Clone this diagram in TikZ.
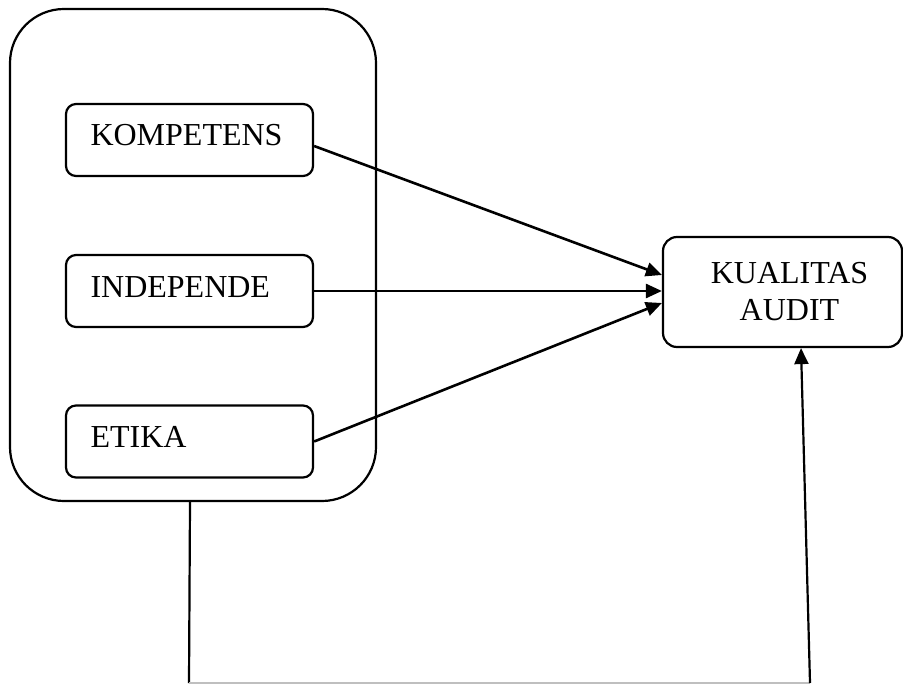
\documentclass[tikz,border=0pt]{standalone}
\usepackage{fontspec}
\setmainfont{Liberation Serif}
\usetikzlibrary{arrows.meta}
\tikzset{
  flow/.style={-{Triangle[length=8pt,width=7pt]},draw=black,line width=1.3pt},
  link/.style={draw=black,line width=1.1pt},
  group/.style={draw=black,line width=1.1pt,rounded corners=27pt,minimum width=183pt,minimum height=246pt},
  varbox/.style={draw=black,line width=1.1pt,rounded corners=5pt,minimum width=123.5pt,minimum height=36pt,
    text width=99pt,inner xsep=12.25pt,text height=11pt,text depth=5pt,align=left,
    font=\fontsize{16}{18.5}\selectfont},
  outcome/.style={draw=black,line width=1.1pt,rounded corners=7pt,minimum width=119.5pt,minimum height=55pt,
    align=center,font=\fontsize{16}{18.5}\selectfont}
}

\begin{document}
\begin{tikzpicture}[x=0.5pt,y=-0.5pt]
  \useasboundingbox (0,0) rectangle (903,684);

  \node[group] (groupbox) at (193,255) {};

  \node[varbox] (komp) at (189.5,140) {KOMPETENS};
  \node[varbox] (indep) at (189.5,291) {INDEPENDE};
  \node[varbox] (etika) at (189.5,441.5) {ETIKA};

  \node[outcome] (kualitas) at (782.5,292) {\hspace*{7pt}KUALITAS\\\hspace*{7pt}AUDIT};

  \draw[flow] ([yshift=-3pt]komp.east) -- ([yshift=8.5pt]kualitas.west);
  \draw[flow] (indep.east) -- (indep.east -| kualitas.west);
  \draw[flow] (etika.east) -- ([yshift=-5.5pt]kualitas.west);

  % loop from the group box back up into the outcome
  \coordinate (bendl) at (189,683);
  \coordinate (bendr) at (810,683);
  \draw[link] ([xshift=-1.5pt]groupbox.south) -- (bendl);
  \draw[draw=black!25,line width=0.8pt] (bendl) -- (bendr);
  \draw[flow,line width=1.1pt] (bendr) -- ([xshift=9.25pt]kualitas.south);
\end{tikzpicture}
\end{document}
